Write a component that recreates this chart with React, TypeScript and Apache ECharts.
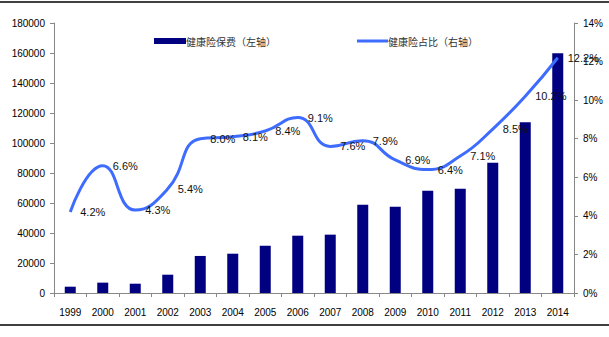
import React, { useEffect, useRef } from "react";
import * as echarts from "echarts";

const years = ["1999","2000","2001","2002","2003","2004","2005","2006","2007","2008","2009","2010","2011","2012","2013","2014"];
const premium = [4200, 6900, 6200, 12200, 24700, 26200, 31500, 38200, 38900, 58900, 57500, 68200, 69500, 86900, 113800, 159800];
const share = [4.2, 6.6, 4.3, 5.4, 8.0, 8.1, 8.4, 9.1, 7.6, 7.9, 6.9, 6.4, 7.1, 8.5, 10.2, 12.2];
const barName = "健康险保费（左轴）";
const lineName = "健康险占比（右轴）";

export default function App() {
  const ref = useRef<HTMLDivElement>(null);
  useEffect(() => {
    const chart = echarts.init(ref.current!, null, { renderer: "svg" });
    const axisFont = { fontFamily: "Liberation Sans, Arial, sans-serif", fontSize: 10, color: "#000" };
    chart.setOption({
      animation: false,
      backgroundColor: "#fff",
      grid: { left: 54, right: 35, top: 23, bottom: 44, containLabel: false },
      legend: [
        {
          data: [barName], left: 149, top: 31, itemWidth: 32, itemHeight: 6, icon: "rect",
          textStyle: { fontFamily: "Noto Sans CJK SC", fontSize: 10, color: "#333", padding: [0, 0, 0, -5] },
        },
        {
          data: [lineName], left: 352, top: 31, itemWidth: 31, itemHeight: 3, icon: "rect",
          textStyle: { fontFamily: "Noto Sans CJK SC", fontSize: 10, color: "#333", padding: [0, 0, 0, -5] },
        },
      ],
      xAxis: {
        type: "category",
        data: years,
        axisLine: { lineStyle: { color: "#888" } },
        axisTick: { show: true, length: 4, lineStyle: { color: "#888" } },
        axisLabel: { ...axisFont, margin: 14 },
      },
      yAxis: [
        {
          type: "value", min: 0, max: 180000, interval: 20000,
          axisLine: { show: true, lineStyle: { color: "#888" } },
          axisTick: { show: true, length: 4, lineStyle: { color: "#888" } },
          splitLine: { show: false },
          axisLabel: { ...axisFont, margin: 9, formatter: (v: number) => String(v) },
        },
        {
          type: "value", min: 0, max: 14, interval: 2, position: "right",
          axisLine: { show: true, lineStyle: { color: "#888" } },
          axisTick: { show: true, length: 4, lineStyle: { color: "#888" } },
          splitLine: { show: false },
          axisLabel: { ...axisFont, margin: 9, formatter: "{value}%" },
        },
      ],
      series: [
        {
          name: barName, type: "bar", data: premium, barWidth: 11,
          itemStyle: { color: "#000080" },
        },
        {
          name: lineName, type: "line", yAxisIndex: 1, data: share, smooth: 0.5,
          showSymbol: true, symbol: "circle", symbolSize: 0.01,
          lineStyle: { color: "#3D6CFF", width: 3 },
          itemStyle: { color: "#3D6CFF" },
          labelLayout: { hideOverlap: false },
          label: {
            show: true, position: "right", distance: 10,
            formatter: (p: any) => p.value.toFixed(1) + "%",
            fontFamily: "Liberation Sans, Arial, sans-serif", fontSize: 11, color: "#111",
          },
        },
      ],
      graphic: [
        { type: "line", shape: { x1: 0, y1: 2, x2: 609, y2: 2 }, style: { stroke: "#000", lineWidth: 1.5 } },
        { type: "line", shape: { x1: 0, y1: 325, x2: 609, y2: 325 }, style: { stroke: "#000", lineWidth: 1.5 } },
      ],
    });
    return () => chart.dispose();
  }, []);
  return <div ref={ref} style={{ position: "absolute", left: 0, top: 0, width: 609, height: 337 }} />;
}
